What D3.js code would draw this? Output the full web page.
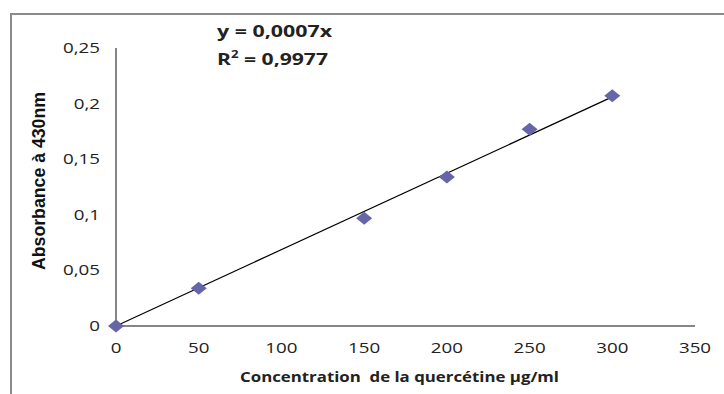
<!DOCTYPE html>
<html><head><meta charset="utf-8">
<script src="https://cdn.jsdelivr.net/npm/d3@7"></script>
<style>body{margin:0;background:#fff}svg{display:block}</style>
</head><body>
<svg id="c" width="724" height="394"></svg>
<script>
const concentrations = [0, 50, 150, 200, 250, 300];
const absorbances = [0, 0.034, 0.097, 0.134, 0.177, 0.207];
const xTicks = [0, 50, 100, 150, 200, 250, 300, 350];
const yTicks = [0, 0.05, 0.1, 0.15, 0.2, 0.25];
const equationText = "y = 0,0007x";
const r2Value = "0,9977";
const xTitle = "Concentration  de la quercétine µg/ml";
const yTitle = "Absorbance à 430nm";

const svg = d3.select("#c");
const x = d3.scaleLinear().domain([0, 350]).range([116, 695]);
const y = d3.scaleLinear().domain([0, 0.25]).range([326, 48]);
const fmt = v => String(v).replace(".", ",");
const SX = 1.25;

// outer frame
svg.append("rect").attr("x", 11).attr("y", 14).attr("width", 800).attr("height", 500)
  .attr("fill", "none").attr("stroke", "#8a8a8a").attr("stroke-width", 2);

// axes lines
svg.append("line").attr("x1", x(0)).attr("x2", x(0)).attr("y1", y(0.25)).attr("y2", y(0))
  .attr("stroke", "#868686").attr("stroke-width", 2);
svg.append("line").attr("x1", x(0)).attr("x2", x(350)).attr("y1", y(0)).attr("y2", y(0))
  .attr("stroke", "#868686").attr("stroke-width", 2);

// y tick labels
svg.selectAll("text.yt").data(yTicks).join("text").attr("class", "yt")
  .attr("transform", d => `translate(100,${y(d) + 5}) scale(${SX},1)`)
  .attr("text-anchor", "end")
  .attr("font-family", "Open Sans").attr("font-size", 15).attr("fill", "#222")
  .text(fmt);

// x tick labels
svg.selectAll("text.xt").data(xTicks).join("text").attr("class", "xt")
  .attr("transform", d => `translate(${x(d)},${353}) scale(${SX},1)`)
  .attr("text-anchor", "middle")
  .attr("font-family", "Open Sans").attr("font-size", 15).attr("fill", "#222")
  .text(d => d);

// trend line (least squares through origin)
const slope = d3.sum(concentrations, (c, i) => c * absorbances[i]) / d3.sum(concentrations, c => c * c);
const xMax = d3.max(concentrations);
svg.append("line").attr("x1", x(0)).attr("y1", y(0)).attr("x2", x(xMax)).attr("y2", y(slope * xMax))
  .attr("stroke", "#000").attr("stroke-width", 1.2);

// markers
const diamond = "M0,-6.5 L8,0 L0,6.5 L-8,0 Z";
svg.selectAll("path.pt").data(concentrations).join("path").attr("class", "pt")
  .attr("d", diamond)
  .attr("transform", (c, i) => `translate(${x(c)},${y(absorbances[i])})`)
  .attr("fill", "#6565a8");

// equation
svg.append("text").attr("x", 217).attr("y", 37).attr("textLength", 115).attr("lengthAdjust", "spacingAndGlyphs")
  .attr("font-family", "Open Sans").attr("font-weight", "bold").attr("font-size", 16).attr("fill", "#222")
  .text(equationText);
const r2 = svg.append("text").attr("x", 217).attr("y", 65).attr("textLength", 111).attr("lengthAdjust", "spacingAndGlyphs")
  .attr("font-family", "Open Sans").attr("font-weight", "bold").attr("font-size", 16).attr("fill", "#222");
r2.append("tspan").text("R");
r2.append("tspan").attr("font-size", 10).attr("dy", -7).text("2");
r2.append("tspan").attr("dy", 7).text(" = " + r2Value);

// x title
svg.append("text").attr("x", 240).attr("y", 382).attr("textLength", 319).attr("lengthAdjust", "spacingAndGlyphs")
  .style("white-space", "pre")
  .attr("font-family", "Open Sans").attr("font-weight", "bold").attr("font-size", 15).attr("fill", "#222")
  .text(xTitle);

// y title
svg.append("text").attr("transform", "translate(45,181) rotate(-90)")
  .attr("text-anchor", "middle").attr("textLength", 178).attr("lengthAdjust", "spacingAndGlyphs")
  .attr("font-family", "Liberation Sans Narrow, Liberation Sans").attr("font-weight", "bold").attr("font-size", 18).attr("fill", "#111")
  .text(yTitle);
</script>
</body></html>
